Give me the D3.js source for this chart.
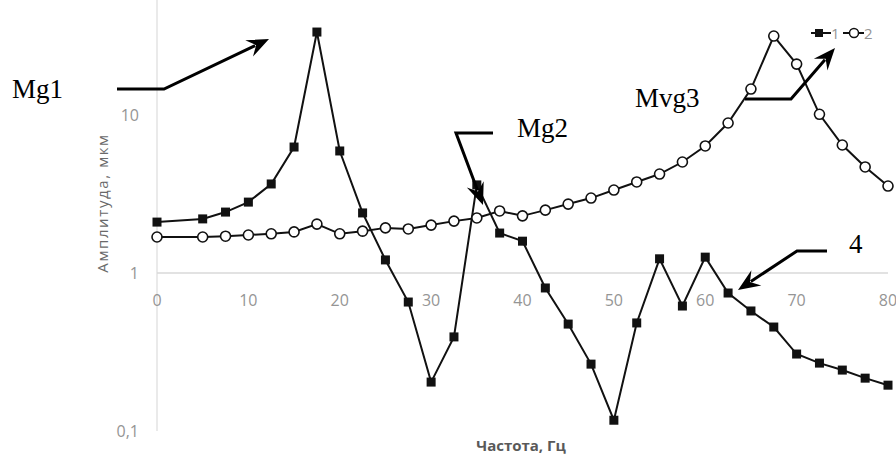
<!DOCTYPE html>
<html><head><meta charset="utf-8">
<script src="https://cdn.jsdelivr.net/npm/d3@7"></script>
<style>body{margin:0;background:#fff}svg{display:block}</style>
</head><body>
<svg id="c" width="896" height="456"></svg>
<script>
const freq = [0,5,7.5,10,12.5,15,17.5,20,22.5,25,27.5,30,32.5,35,37.5,40,42.5,45,47.5,50,52.5,55,57.5,60,62.5,65,67.5,70,72.5,75,77.5,80];
const series1 = [2.10,2.20,2.43,2.81,3.66,6.27,33.5,5.92,2.40,1.21,0.655,0.204,0.394,3.61,1.79,1.59,0.804,0.475,0.265,0.117,0.483,1.23,0.618,1.26,0.747,0.575,0.455,0.307,0.269,0.243,0.216,0.195];
const series2 = [1.69,1.69,1.71,1.74,1.77,1.82,2.04,1.77,1.84,1.93,1.90,2.01,2.13,2.23,2.47,2.30,2.50,2.73,2.98,3.35,3.77,4.23,5.04,6.37,8.90,14.6,31.6,21.0,10.1,6.46,4.69,3.55];
const xTicks = [0,10,20,30,40,50,60,70,80];
const yTicks = [0.1,1,10];
const yTickLabels = ["0,1","1","10"];
const seriesNames = ["1","2"];
const xTitle = "Частота, Гц";
const yTitle = "Амплитуда, мкм";
const notes = [
  {text:"Mg1", tx:12, ty:98, path:[[117,89],[164,89],[269,39]]},
  {text:"Mg2", tx:517, ty:137, path:[[493,133],[456,133],[483,205]]},
  {text:"Mvg3", tx:635, ty:107, path:[[745,99],[791,99],[835,48]]},
  {text:"4", tx:849, ty:253, path:[[827,251],[797,251],[738,290]]}
];

const svg = d3.select("#c");
const x = d3.scaleLinear().domain([0,80]).range([157,888]);
const y = d3.scaleLog().domain([0.1,10]).range([431,115]);
const gray = "#959595";
const font = "'Open Sans', 'Liberation Sans', sans-serif";

// axis lines
svg.append("line").attr("x1",x(0)).attr("x2",x(0)).attr("y1",0).attr("y2",y(0.1))
  .attr("stroke","#dcdcdc").attr("stroke-width",1.2);
svg.append("line").attr("x1",x(0)).attr("x2",x(80)).attr("y1",y(1)).attr("y2",y(1))
  .attr("stroke","#d9d9d9").attr("stroke-width",1.5);

// x ticks
svg.append("g").selectAll("text").data(xTicks).join("text")
  .attr("x",d=>x(d)).attr("y",y(1)+33).attr("text-anchor","middle")
  .attr("font-family",font).attr("font-size",16).attr("fill",gray).text(d=>d);
// y ticks
svg.append("g").selectAll("text").data(yTicks).join("text")
  .attr("x",139).attr("y",d=>y(d)+6).attr("text-anchor","end")
  .attr("font-family",font).attr("font-size",16).attr("fill",gray).text((d,i)=>yTickLabels[i]);

// titles
svg.append("text").attr("x",521).attr("y",451).attr("text-anchor","middle")
  .attr("font-family",font).attr("font-size",15).attr("font-weight","bold").attr("fill","#595959").text(xTitle);
svg.append("text").attr("transform","translate(108,203) rotate(-90)").attr("text-anchor","middle")
  .attr("font-family",font).attr("font-size",15).attr("letter-spacing",1.6).attr("fill","#6a6a6a").text(yTitle);

// lines
const line = d3.line().x((d,i)=>x(freq[i])).y(d=>y(d));
[series1,series2].forEach(s=>{
  svg.append("path").attr("d",line(s)).attr("fill","none").attr("stroke","#111").attr("stroke-width",2);
});
svg.append("g").selectAll("rect").data(series1).join("rect")
  .attr("x",(d,i)=>x(freq[i])-4.5).attr("y",d=>y(d)-4.5).attr("width",9).attr("height",9).attr("fill","#111");
svg.append("g").selectAll("circle").data(series2).join("circle")
  .attr("cx",(d,i)=>x(freq[i])).attr("cy",d=>y(d)).attr("r",5)
  .attr("fill","#fff").attr("stroke","#111").attr("stroke-width",1.6);

// legend
const lg = svg.append("g").attr("font-family",font).attr("font-size",15).attr("fill",gray);
lg.append("line").attr("x1",811).attr("x2",831).attr("y1",33).attr("y2",33).attr("stroke","#111").attr("stroke-width",2);
lg.append("rect").attr("x",815).attr("y",29).attr("width",8).attr("height",8).attr("fill","#111");
lg.append("text").attr("x",831).attr("y",38.5).text(seriesNames[0]);
lg.append("line").attr("x1",843).attr("x2",864).attr("y1",33).attr("y2",33).attr("stroke","#111").attr("stroke-width",2);
lg.append("circle").attr("cx",854).attr("cy",33).attr("r",4.5).attr("fill","#fff").attr("stroke","#111").attr("stroke-width",1.5);
lg.append("text").attr("x",864).attr("y",38.5).text(seriesNames[1]);

// annotations
notes.forEach(n=>{
  svg.append("text").attr("x",n.tx).attr("y",n.ty).attr("font-family","'Liberation Serif', 'DejaVu Serif', serif")
    .attr("font-size",27).attr("fill","#000").text(n.text);
  const p = n.path;
  const a = p[p.length-2], b = p[p.length-1];
  const dx=b[0]-a[0], dy=b[1]-a[1], L=Math.hypot(dx,dy), ux=dx/L, uy=dy/L;
  const hl=22, hw=9;
  const base=[b[0]-ux*hl, b[1]-uy*hl];
  const pts = p.slice(0,-1).concat([[b[0]-ux*hl*0.7,b[1]-uy*hl*0.7]]);
  svg.append("path").attr("d",d3.line()(pts)).attr("fill","none").attr("stroke","#000").attr("stroke-width",3);
  svg.append("path").attr("d",d3.line()([b,[base[0]-uy*hw,base[1]+ux*hw],[b[0]-ux*hl*0.65,b[1]-uy*hl*0.65],[base[0]+uy*hw,base[1]-ux*hw]])+"Z")
    .attr("fill","#000");
});
</script>
</body></html>
